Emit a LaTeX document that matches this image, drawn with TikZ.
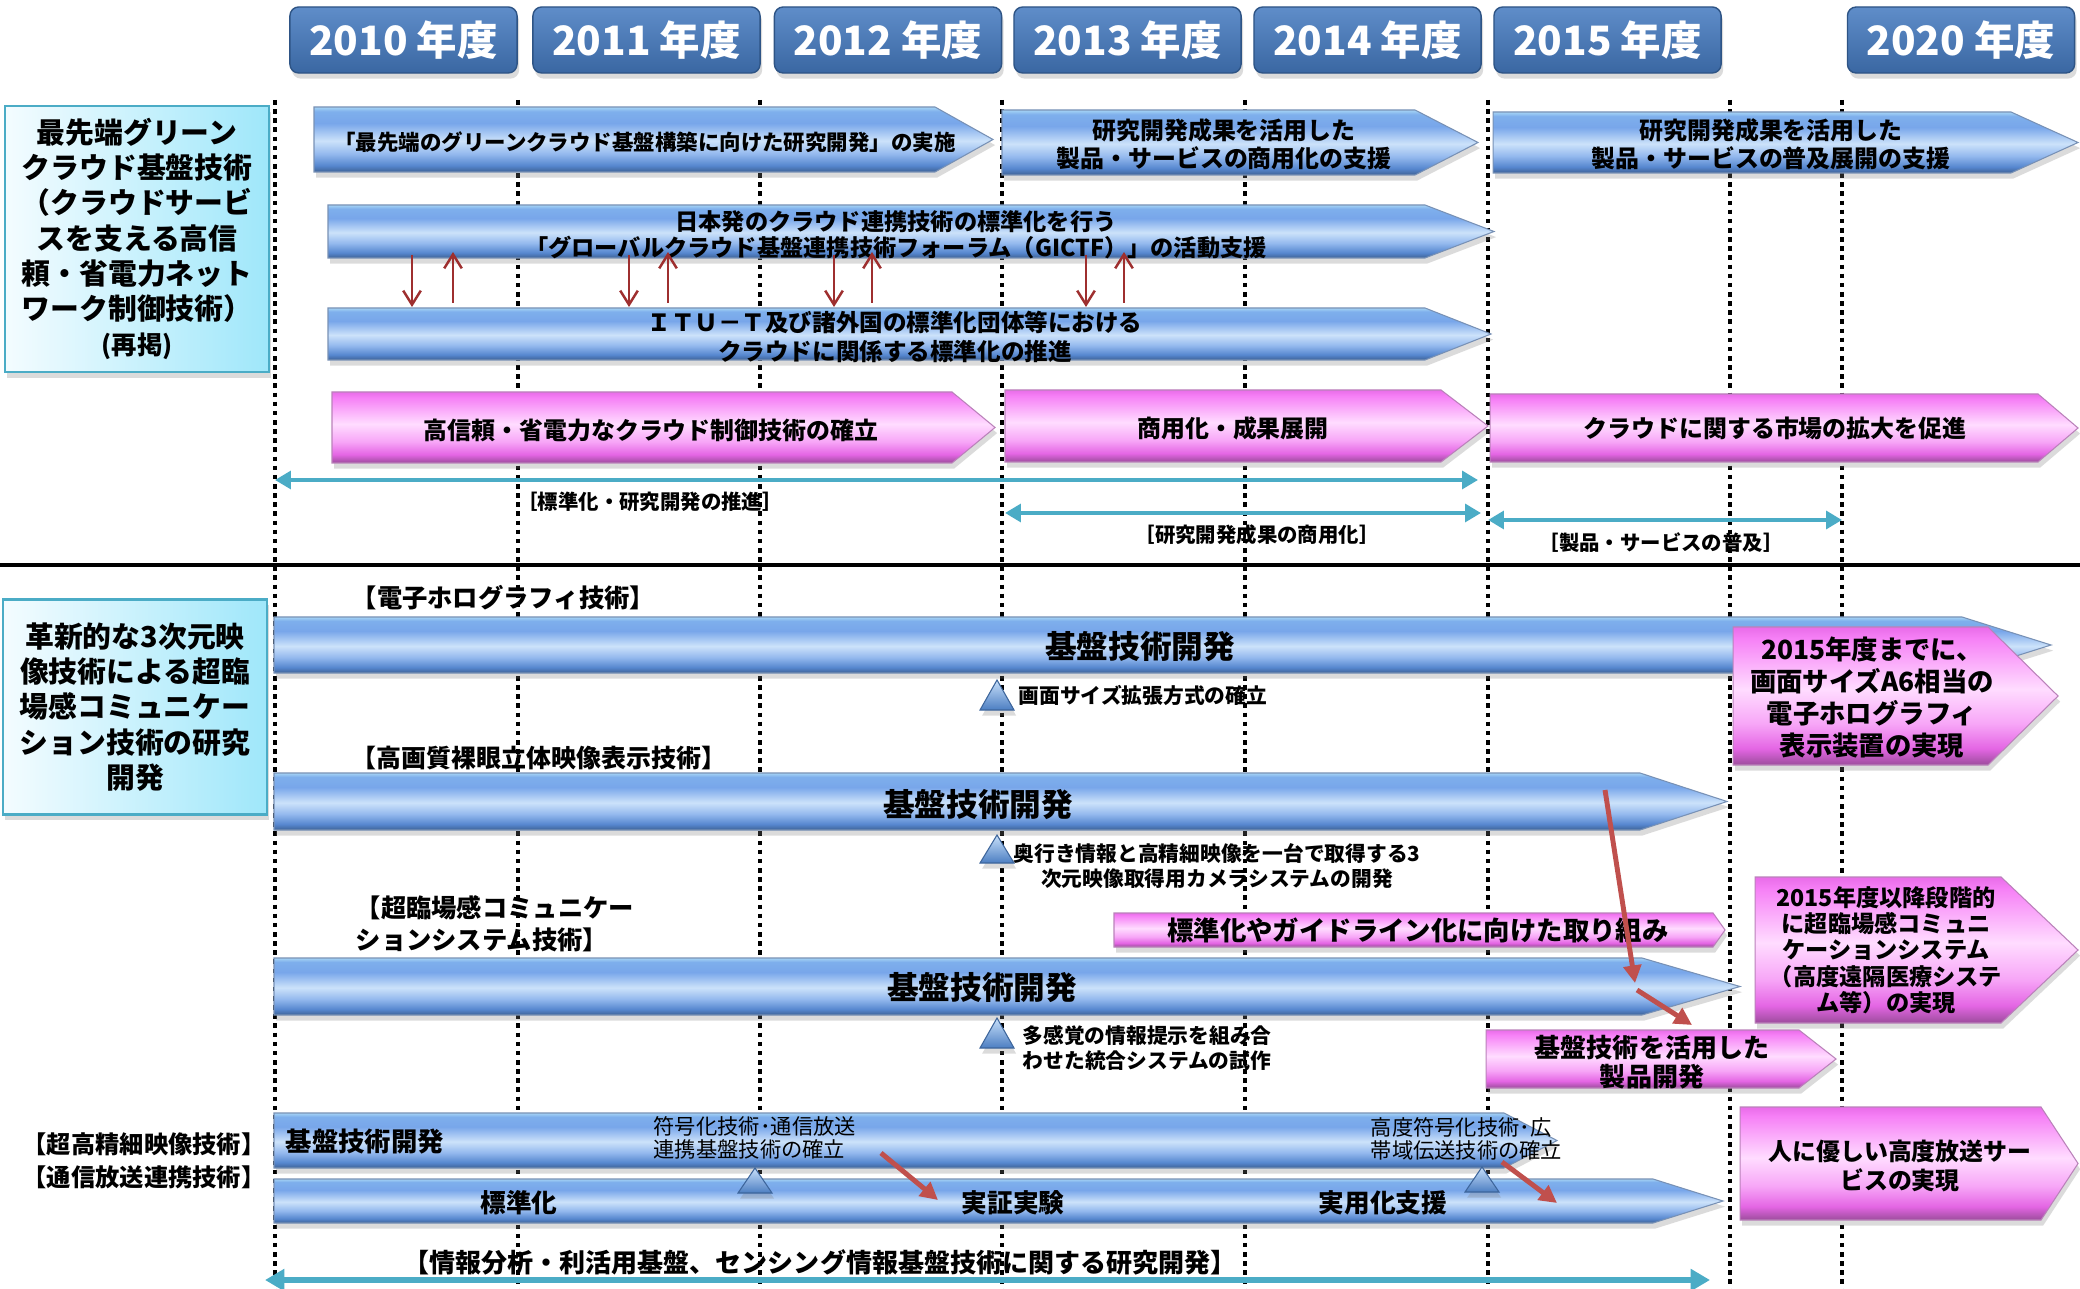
\documentclass[tikz,border=0pt]{standalone}
\usepackage{fontspec}
\setmainfont{Noto Sans CJK JP}
\usetikzlibrary{arrows.meta,shadows}

\definecolor{bb0}{HTML}{A6D4F5}
\definecolor{bb1}{HTML}{7EAFEC}
\definecolor{bb2}{HTML}{78A6EA}
\definecolor{bb3}{HTML}{CCE2FA}
\definecolor{bb4}{HTML}{94B9EE}
\definecolor{bb5}{HTML}{5687CF}
\definecolor{bb6}{HTML}{3E6296}
\definecolor{pp0}{HTML}{E86CE8}
\definecolor{pp1}{HTML}{F680F6}
\definecolor{pp2}{HTML}{FFDCFF}
\definecolor{pp3}{HTML}{F7A6F7}
\definecolor{pp4}{HTML}{E466E4}
\definecolor{pp5}{HTML}{9C4C9C}
\definecolor{yrtop}{HTML}{5F8DC9}
\definecolor{yrbot}{HTML}{3A67A2}
\definecolor{yredge}{HTML}{2E5485}
\definecolor{cyL}{HTML}{F4FCFF}
\definecolor{cyR}{HTML}{9FE7FA}
\definecolor{cyedge}{HTML}{4BACC6}
\definecolor{tealc}{HTML}{4BACC6}
\definecolor{dred}{HTML}{9E2F2F}
\definecolor{ored}{HTML}{C0504D}
\definecolor{tritop}{HTML}{C8E0FA}
\definecolor{tribot}{HTML}{4C7EC2}

\pgfdeclareverticalshading{bluebar}{100bp}{color(0bp)=(bb6); color(25bp)=(bb6); color(30bp)=(bb5); color(39bp)=(bb4); color(49bp)=(bb3); color(62.5bp)=(bb2); color(71.5bp)=(bb1); color(75bp)=(bb0); color(100bp)=(bb0)}
\pgfdeclareverticalshading{pinkbar}{100bp}{color(0bp)=(pp5); color(25bp)=(pp5); color(31bp)=(pp4); color(40bp)=(pp3); color(52.5bp)=(pp2); color(71bp)=(pp1); color(75bp)=(pp0); color(100bp)=(pp0)}

\newcommand\fsz[2]{\fontsize{#1pt}{#2pt}\selectfont}
\newcommand\mychev[6]{\path[#1] (#2,#5) -- (#3,#5) -- (#4,{(#5+#6)/2}) -- (#3,#6) -- (#2,#6) -- cycle;}
\newcommand\mytri[3]{\path[trishape] (#1-17,#3) -- (#1,#2) -- (#1+17,#3) -- cycle;}

\tikzset{
 vline/.style={line width=1pt, dash pattern=on 1.3pt off 1.3pt},
 shd/.style={drop shadow={shadow xshift=0.6pt,shadow yshift=-1.6pt,opacity=0.28}},
 bluearr/.style={shd, shade, shading=bluebar, draw=bb6!70, line width=0.3pt},
 pinkarr/.style={shd, shade, shading=pinkbar, draw=pp5!70, line width=0.3pt},
 yearbox/.style={shd, rounded corners=2.5pt, top color=yrtop, bottom color=yrbot, draw=yredge, line width=0.4pt, minimum width=2.27cm, minimum height=0.66cm, text=white, font=\fsz{11.5}{13}\bfseries, inner sep=0pt},
 leftbox/.style={shd, left color=cyL, right color=cyR, draw=cyedge, line width=0.7pt, minimum width=2.64cm, align=center, inner sep=0pt},
 lab/.style={inner sep=0pt, align=center},
 redarr/.style={draw=dred, line width=0.7pt, -{Straight Barb[length=4pt,width=5pt]}},
 tealarr/.style={draw=tealc, line width=1.1pt, {Triangle[length=4.5pt,width=5pt]}-{Triangle[length=4.5pt,width=5pt]}},
 orarr/.style={draw=ored, line width=1.4pt, -{Triangle[length=5pt,width=5pt]}},
 trishape/.style={shd, top color=tritop, bottom color=tribot, draw=tribot!80!black, line width=0.3pt},
 fA/.style={font=\fsz{6.8}{8}\bfseries},
 fB/.style={font=\fsz{9}{11}\bfseries},
 fC/.style={font=\fsz{5.9}{7.1}\bfseries},
 fD/.style={font=\fsz{7.3}{9}\bfseries},
}

\begin{document}
\begin{tikzpicture}[x=0.01cm,y=-0.01cm]
\useasboundingbox (0,0) rectangle (2080,1289);
\fill[white] (0,0) rectangle (2080,1289);

% vertical dotted year lines
\foreach \xx in {275,518,760,1002,1245,1488,1730,1842}
  \draw[vline] (\xx,100) -- (\xx,1289);
% separator
\draw[line width=1.1pt] (0,565) -- (2080,565);

% year headers
\node[yearbox] (y10) at (403.5,40) {2010 年度};
\node[yearbox] (y11) at (646.5,40) {2011 年度};
\node[yearbox] (y12) at (888,40) {2012 年度};
\node[yearbox] (y13) at (1127.5,40) {2013 年度};
\node[yearbox] (y14) at (1367.5,40) {2014 年度};
\node[yearbox] (y15) at (1607.5,40) {2015 年度};
\node[yearbox] (y20) at (1961,40) {2020 年度};

% left title boxes
\node[leftbox, minimum height=2.66cm, font=\fsz{8.2}{10}\bfseries] (lb1) at (137,239)
  {最先端グリーン\\クラウド基盤技術\\（クラウドサービ\\スを支える高信\\頼・省電力ネット\\ワーク制御技術）\\{\fsz{7.2}{10}\bfseries(再掲)}};
\node[leftbox, minimum height=2.15cm, font=\fsz{8.2}{10}\bfseries] (lb2) at (135,707)
  {革新的な3次元映\\像技術による超臨\\場感コミュニケー\\ション技術の研究\\開発};

% ---- upper section ----
\mychev{bluearr}{314}{935}{993}{107}{172}
\node[lab, font=\fsz{6.1}{8}\bfseries] (a1) at (645,142) {「最先端のグリーンクラウド基盤構築に向けた研究開発」の実施};
\mychev{bluearr}{1002}{1415}{1478}{110}{175}
\node[lab, fA] (a2) at (1224,144) {研究開発成果を活用した\\製品・サービスの商用化の支援};
\mychev{bluearr}{1493}{2011}{2078}{112}{173}
\node[lab, fA] (a3) at (1771,144) {研究開発成果を活用した\\製品・サービスの普及展開の支援};

\mychev{bluearr}{328}{1425}{1494}{205}{258}
\node[lab, font=\fsz{6.6}{7.4}\bfseries] (g1) at (896,235) {日本発のクラウド連携技術の標準化を行う\\「グローバルクラウド基盤連携技術フォーラム（GICTF）」の活動支援};
\mychev{bluearr}{328}{1425}{1491}{308}{360}
\node[lab, font=\fsz{6.7}{8.2}\bfseries] (i1) at (895,337) {ＩＴＵ－Ｔ及び諸外国の標準化団体等における\\クラウドに関係する標準化の推進};

% red exchange arrows
\coordinate (d1a) at (412,255); \coordinate (d1b) at (412,307);
\coordinate (u1a) at (453,303); \coordinate (u1b) at (453,252);
\coordinate (d2a) at (629,255); \coordinate (d2b) at (629,307);
\coordinate (u2a) at (668,303); \coordinate (u2b) at (668,252);
\coordinate (d3a) at (834,255); \coordinate (d3b) at (834,307);
\coordinate (u3a) at (872,303); \coordinate (u3b) at (872,252);
\coordinate (d4a) at (1086,255); \coordinate (d4b) at (1086,307);
\coordinate (u4a) at (1124,303); \coordinate (u4b) at (1124,252);
\draw[redarr] (d1a) -- (d1b); \draw[redarr] (u1a) -- (u1b);
\draw[redarr] (d2a) -- (d2b); \draw[redarr] (u2a) -- (u2b);
\draw[redarr] (d3a) -- (d3b); \draw[redarr] (u3a) -- (u3b);
\draw[redarr] (d4a) -- (d4b); \draw[redarr] (u4a) -- (u4b);

\mychev{pinkarr}{332}{952}{995}{392}{463}
\node[lab, fA] (p1) at (651,430) {高信頼・省電力なクラウド制御技術の確立};
\mychev{pinkarr}{1005}{1441}{1488}{390}{462}
\node[lab, fA] (p2) at (1233,428) {商用化・成果展開};
\mychev{pinkarr}{1490}{2038}{2078}{394}{462}
\node[lab, fA] (p3) at (1775,428) {クラウドに関する市場の拡大を促進};

\coordinate (c1a) at (275,480); \coordinate (c1b) at (1478,480);
\draw[tealarr] (c1a) -- (c1b);
\node[lab, font=\fsz{5.8}{7}\bfseries] (c1l) at (650,502) {［標準化・研究開発の推進］};
\coordinate (c2a) at (1005,513); \coordinate (c2b) at (1481,513);
\draw[tealarr] (c2a) -- (c2b);
\node[lab, font=\fsz{5.8}{7}\bfseries] (c2l) at (1257,535) {［研究開発成果の商用化］};
\coordinate (c3a) at (1488,520); \coordinate (c3b) at (1842,520);
\draw[tealarr] (c3a) -- (c3b);
\node[lab, font=\fsz{5.8}{7}\bfseries] (c3l) at (1661,543) {［製品・サービスの普及］};

% ---- lower section ----
\node[lab, anchor=west, font=\fsz{7.2}{9}\bfseries] (h1) at (351,598) {【電子ホログラフィ技術】};
\mychev{bluearr}{274}{1962}{2051}{617}{673}
\node[lab, fB] (b1) at (1140,647) {基盤技術開発};
\mychev{pinkarr}{1733}{1988}{2058}{627}{765}
\node[lab, font=\fsz{7.5}{9.1}\bfseries] (pk1) at (1872,698) {2015年度までに、\\画面サイズA6相当の\\電子ホログラフィ\\表示装置の実現};
\mytri{997}{680}{710}
\node[lab, anchor=west, fC] (t1) at (1018,695) {画面サイズ拡張方式の確立};

\node[lab, anchor=west, font=\fsz{7.1}{9}\bfseries] (h2) at (351,758) {【高画質裸眼立体映像表示技術】};
\mychev{bluearr}{274}{1640}{1727}{773}{830}
\node[lab, fB] (b2) at (978,805) {基盤技術開発};
\mytri{997}{835}{863}
\node[lab, fC] (t2) at (1217,866) {奥行き情報と高精細映像を一台で取得する3\\次元映像取得用カメラシステムの開発};

\node[lab, anchor=west, align=left, font=\fsz{7.2}{9.1}\bfseries] (h3) at (355,924) {【超臨場感コミュニケー\\ションシステム技術】};
\mychev{pinkarr}{1114}{1713}{1725}{913}{947}
\node[lab, font=\fsz{7.5}{9}\bfseries] (pb) at (1418,930) {標準化やガイドライン化に向けた取り組み};
\mychev{bluearr}{274}{1642}{1740}{958}{1015}
\node[lab, fB] (b3) at (982,988) {基盤技術開発};
\mytri{997}{1018}{1048}
\node[lab, fC] (t3) at (1147,1048) {多感覚の情報提示を組み合\\わせた統合システムの試作};
\mychev{pinkarr}{1755}{2001}{2078}{877}{1023}
\node[lab, font=\fsz{6.6}{7.5}\bfseries] (pk2) at (1886,950) {2015年度以降段階的\\に超臨場感コミュニ\\ケーションシステム\\（高度遠隔医療システ\\ム等）の実現};
\mychev{pinkarr}{1486}{1799}{1836}{1030}{1088}
\node[lab, font=\fsz{7.4}{8.2}\bfseries] (pk4) at (1652,1062) {基盤技術を活用した\\製品開発};

\node[lab, font=\fsz{6.9}{9.4}\bfseries] (h4) at (144,1161) {【超高精細映像技術】\\【通信放送連携技術】};
\mychev{bluearr}{274}{1504}{1557}{1113}{1168}
\node[lab, anchor=west, font=\fsz{7.5}{9}\bfseries] (b4) at (285,1142) {基盤技術開発};
\node[lab, anchor=west, align=left, font=\fsz{6.05}{6.5}] (l4a) at (653,1138) {符号化技術･通信放送\\連携基盤技術の確立};
\node[lab, anchor=west, align=left, font=\fsz{6.05}{6.5}] (l4b) at (1370,1139) {高度符号化技術･広\\帯域伝送技術の確立};
\mychev{bluearr}{274}{1653}{1723}{1179}{1223}
\mytri{755}{1168}{1193}
\mytri{1482}{1167}{1192}
\node[lab, fD] (b5a) at (519,1203) {標準化};
\node[lab, fD] (b5b) at (1013,1203) {実証実験};
\node[lab, fD] (b5c) at (1383,1203) {実用化支援};
\mychev{pinkarr}{1740}{2041}{2078}{1107}{1220}
\node[lab, fA] (pk3) at (1900,1166) {人に優しい高度放送サー\\ビスの実現};

\node[lab, font=\fsz{7.4}{9}\bfseries] (h5) at (820,1262) {【情報分析・利活用基盤、センシング情報基盤技術に関する研究開発】};
\coordinate (c4a) at (265,1280); \coordinate (c4b) at (1710,1280);
\draw[draw=tealc, line width=1.7pt, {Triangle[length=5.5pt,width=6pt]}-{Triangle[length=5.5pt,width=6pt]}] (c4a) -- (c4b);

% red transition arrows
\coordinate (r1a) at (1605,790); \coordinate (r1b) at (1635,983);
\coordinate (r2a) at (1637,990); \coordinate (r2b) at (1692,1025);
\coordinate (r3a) at (881,1153); \coordinate (r3b) at (938,1200);
\coordinate (r4a) at (1502,1162); \coordinate (r4b) at (1557,1203);
\draw[orarr] (r1a) -- (r1b);
\draw[orarr] (r2a) -- (r2b);
\draw[orarr] (r3a) -- (r3b);
\draw[orarr] (r4a) -- (r4b);
\end{tikzpicture}
\end{document}
